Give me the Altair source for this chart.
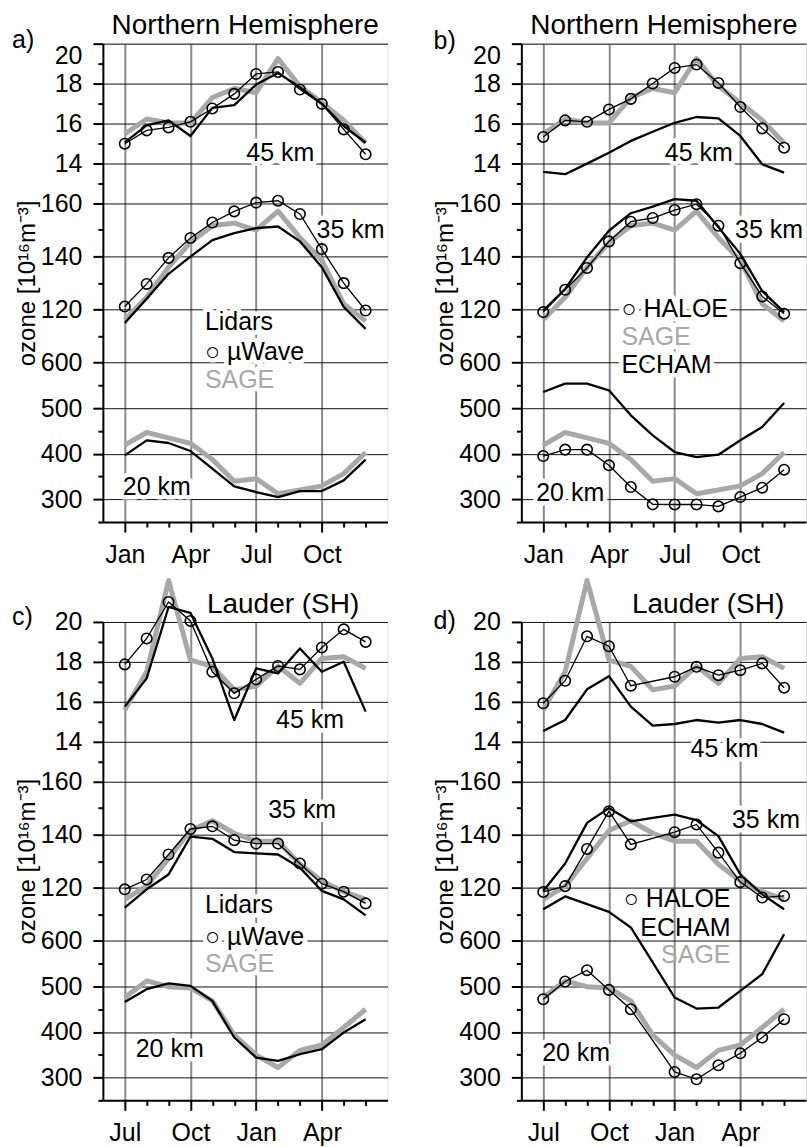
import altair as alt
import pandas as pd

FONT = "Liberation Sans"
GRAY = "#a8a8a8"

# ---------------- axis labels / ticks ----------------
x_tick_labels_nh = ["Jan", "", "", "Apr", "", "", "Jul", "", "", "Oct", "", ""]
x_tick_labels_sh = ["Jul", "", "", "Oct", "", "", "Jan", "", "", "Apr", "", ""]
ticks45 = [13, 14, 15, 16, 17, 18, 19, 20]
ticks35 = [110, 120, 130, 140, 150, 160]
ticks20 = [250, 300, 350, 400, 450, 500, 550, 600]
# each altitude band: (low, high, stacked offset)
BANDS = {45: (12, 20, 2), 35: (100, 160, 1), 20: (250, 600, 0)}

# ---------------- data (Northern Hemisphere, Jan..Dec) ----------------
a45_lidar = [15.05, 15.9, 16.15, 15.37, 16.78, 16.92, 17.95, 18.53, 17.82, 16.98, 15.87, 15.03]
a45_uwave = [14.98, 15.65, 15.8, 16.08, 16.75, 17.48, 18.48, 18.58, 17.7, 16.98, 15.7, 14.45]
a35_lidar = [114.9, 124.0, 133.4, 139.9, 146.1, 148.7, 150.6, 151.2, 145.6, 135.9, 120.9, 112.7]
a35_uwave = [121.1, 129.6, 139.4, 146.9, 152.7, 156.9, 160.2, 160.9, 155.9, 142.7, 129.9, 119.6]
a20_lidar = [396.4, 429.4, 423.5, 405.9, 367.2, 328.4, 315.9, 304.9, 318.0, 318.0, 341.5, 387.0]
nh45_sage = [15.47, 16.22, 16.02, 16.02, 17.29, 17.75, 17.54, 19.25, 17.86, 17.04, 16.16, 15.02]
nh35_sage = [116.1, 124.6, 135.9, 145.2, 151.5, 152.5, 149.8, 157.0, 147.0, 138.5, 122.1, 115.6]
nh20_sage = [419.0, 446.5, 434.7, 422.8, 387.4, 339.7, 345.3, 312.2, 320.4, 329.5, 356.3, 402.6]
b45_haloe = [15.32, 16.15, 16.08, 16.7, 17.23, 18.0, 18.78, 18.95, 18.03, 16.82, 15.75, 14.78]
b45_echam = [13.57, 13.45, 13.98, 14.53, 15.12, 15.58, 16.03, 16.32, 16.25, 15.37, 13.95, 13.53]
b35_haloe = [119.0, 127.4, 135.6, 145.6, 153.0, 154.4, 157.4, 159.6, 151.5, 137.4, 124.9, 118.4]
b35_echam = [119.6, 127.7, 139.6, 149.6, 156.2, 158.7, 161.5, 160.9, 150.9, 140.9, 126.9, 119.0]
b20_haloe = [394.9, 409.0, 409.0, 374.5, 326.9, 288.9, 288.6, 288.6, 284.4, 304.9, 325.5, 365.0]
b20_echam = [535.5, 553.9, 553.9, 539.2, 484.3, 440.4, 403.7, 392.7, 397.9, 429.4, 458.6, 511.3]

# ---------------- data (Lauder, Jul..Jun) ----------------
c45_lidar = [15.75, 17.17, 20.75, 20.45, 18.17, 15.08, 17.67, 17.42, 18.67, 17.5, 18.0, 15.5]
c45_uwave = [17.87, 19.17, 21.0, 20.05, 17.5, 16.42, 17.12, 17.79, 17.62, 18.72, 19.63, 19.0]
c35_lidar = [112.5, 119.4, 125.0, 139.2, 138.4, 133.4, 132.9, 132.5, 127.5, 118.8, 115.6, 109.6]
c35_uwave = [119.4, 123.1, 132.5, 142.1, 143.1, 137.9, 136.6, 136.6, 129.1, 121.5, 118.5, 114.1]
c20_lidar = [466.1, 493.9, 506.5, 501.2, 468.3, 387.9, 343.9, 336.5, 351.2, 362.2, 398.8, 428.1]
sh45_sage = [15.58, 17.5, 22.08, 18.08, 17.77, 16.6, 16.78, 17.78, 16.92, 18.17, 18.25, 17.67]
sh35_sage = [115.6, 120.6, 131.0, 141.5, 145.2, 140.5, 137.5, 137.5, 128.8, 122.5, 118.5, 115.6]
sh20_sage = [475.7, 512.1, 499.5, 496.8, 468.4, 393.4, 349.4, 322.0, 359.7, 371.4, 409.9, 450.0]
d45_haloe = [15.92, 17.05, 19.28, 18.78, 16.8, None, 17.25, 17.75, 17.33, 17.58, 17.92, 16.7]
d45_echam = [14.53, 15.08, 16.62, 17.28, 15.75, 14.8, 14.88, 15.08, 14.95, 15.08, 14.88, 14.45]
d35_haloe = [118.4, 120.6, 134.6, 148.8, 136.3, None, 140.9, 143.8, 133.2, 122.1, 116.3, 116.9]
d35_echam = [118.8, 129.1, 144.4, 150.0, 145.0, 146.3, 147.5, 145.4, 139.4, 125.0, 117.5, 111.9]
d20_haloe = [472.0, 510.8, 535.7, 492.4, 450.0, None, 312.3, 296.2, 326.9, 353.3, 387.9, 428.1]
d20_echam = [669.6, 697.5, 680.6, 663.7, 629.4, 552.6, 475.7, 451.5, 453.7, 490.2, 526.9, 614.7]

# ---------------- annotation texts: (text, month pos, band, value, align, size, color, halo) ----------------
FS = 25
TS = 28
texts_a = [
    ("a)", -5.15, 45, 19.77, "left", FS, "black", False),
    ("Northern Hemisphere", 5.5, 45, 20.47, "center", TS, "black", False),
    ("45 km", 5.55, 45, 14.12, "left", FS, "black", True),
    ("35 km", 8.76, 35, 147.0, "left", FS, "black", True),
    ("20 km", -0.09, 20, 308.6, "left", FS, "black", True),
    ("Lidars", 3.66, 35, 112.1, "left", FS, "black", True),
    ("\u25cb \u00b5Wave", 3.66, 35, 100.9, "left", FS, "black", True),
    ("SAGE", 3.66, 20, 543.6, "left", FS, GRAY, True),
]
texts_b = [
    ("b)", -5.01, 45, 19.72, "left", FS, "black", False),
    ("Northern Hemisphere", 5.51, 45, 20.47, "center", TS, "black", False),
    ("45 km", 5.55, 45, 14.12, "left", FS, "black", True),
    ("35 km", 8.76, 35, 147.0, "left", FS, "black", True),
    ("20 km", -0.32, 20, 296.1, "left", FS, "black", True),
    ("\u25cb HALOE", 3.57, 35, 117.0, "left", FS, "black", True),
    ("SAGE", 3.57, 35, 106.5, "left", FS, GRAY, True),
    ("ECHAM", 3.57, 20, 576.5, "left", FS, "black", True),
]
texts_c = [
    ("c)", -5.15, 45, 19.84, "left", FS, "black", False),
    ("Lauder (SH)", 7.23, 45, 20.43, "center", TS, "black", False),
    ("45 km", 6.91, 45, 14.69, "left", FS, "black", True),
    ("35 km", 6.55, 35, 146.4, "left", FS, "black", True),
    ("20 km", 0.5, 20, 344.6, "left", FS, "black", True),
    ("Lidars", 3.66, 35, 110.4, "left", FS, "black", True),
    ("\u25cb \u00b5Wave", 3.66, 20, 590.6, "left", FS, "black", True),
    ("SAGE", 3.66, 20, 531.3, "left", FS, GRAY, True),
]
texts_d = [
    ("d)", -5.01, 45, 19.67, "left", FS, "black", False),
    ("Lauder (SH)", 7.53, 45, 20.43, "center", TS, "black", False),
    ("45 km", 6.73, 45, 13.24, "left", FS, "black", True),
    ("35 km", 8.62, 35, 142.6, "left", FS, "black", True),
    ("20 km", -0.05, 20, 335.8, "left", FS, "black", True),
    ("\u25cb HALOE", 8.55, 35, 112.6, "right", FS, "black", False),
    ("ECHAM", 8.55, 35, 101.8, "right", FS, "black", False),
    ("SAGE", 8.55, 20, 551.0, "right", FS, GRAY, False),
]

W, H = 285, 479

U_EXPR = ("datum.band == 45 ? 2 + (datum.value - 12) / 8 : "
          "datum.band == 35 ? 1 + (datum.value - 100) / 60 : (datum.value - 250) / 350")
LBL = ("(datum.value > 2.001 ? 12 + (datum.value - 2) * 8 : datum.value > 1.001 ? "
       "100 + (datum.value - 1) * 60 : 250 + datum.value * 350)")
STEP = "(datum.value > 2.001 ? 2 : datum.value > 1.001 ? 20 : 100)"
Y_MINOR = f"round({LBL}) % {STEP} != 0"
X_MINOR = "datum.value % 3 != 0"


def to_u(band, v):
    lo, hi, off = BANDS[band]
    return round(off + (v - lo) / (hi - lo), 6)


yvals = sorted({to_u(45, v) for v in ticks45} | {to_u(35, v) for v in ticks35} | {to_u(20, v) for v in ticks20})


def long_df(d):
    rows = []
    for band, vals in d.items():
        for i, v in enumerate(vals):
            if v is not None:
                rows.append({"m": i, "band": band, "value": v})
    return pd.DataFrame(rows)


def make_panel(gray, plain, circ, xlabels, texts, flush):
    js_labels = "[" + ",".join("'" + s + "'" for s in xlabels) + "]"
    xaxis = alt.Axis(
        values=list(range(12)), labelExpr=f"{js_labels}[datum.value]", title=None,
        tickSize=10, tickWidth=2, tickColor="black",
        tickDash={"condition": {"test": X_MINOR, "value": [5, 30]}, "value": [12, 0]},
        grid=True, gridColor="#8a8a8a", gridWidth=2,
        gridOpacity={"condition": {"test": X_MINOR, "value": 0}, "value": 1},
        domainColor="black", domainWidth=2, labelFont=FONT, labelFontSize=FS,
        labelColor="black", labelPadding=30, labelBaseline="alphabetic",
        labelOverlap=False, labelFlush=False,
    )
    yaxis = alt.Axis(
        values=yvals, labelExpr=f"{Y_MINOR} ? '' : format(round({LBL}), 'd')",
        title="ozone [10\u00b9\u2076m\u207b\u00b3]", titleFont=FONT, titleFontSize=24,
        titleFontWeight="normal", titleColor="black", titlePadding=1,
        tickSize=10, tickWidth=2, tickColor="black",
        tickDash={"condition": {"test": Y_MINOR, "value": [5, 30]}, "value": [12, 0]},
        grid=True, gridColor="#111111", gridWidth=1,
        gridOpacity={"condition": {"test": Y_MINOR, "value": 0}, "value": 1},
        domainColor="black", domainWidth=2, labelFont=FONT, labelFontSize=FS,
        labelColor="black", labelPadding=11, labelOverlap=False, labelFlush=flush,
    )
    X = alt.X("m:Q", scale=alt.Scale(domain=[-1, 12], nice=False, zero=False), axis=xaxis)
    Y = alt.Y("u:Q", scale=alt.Scale(domain=[0, 3], nice=False, zero=False), axis=yaxis)

    tdf = pd.DataFrame(texts, columns=["text", "m", "band", "value", "align", "size", "color", "halo"])
    layers = []
    # white halos behind labels (interrupt the grid)
    for al in ["left", "center", "right"]:
        sub = tdf[(tdf["align"] == al) & (tdf["halo"])]
        if len(sub):
            layers.append(
                alt.Chart(sub).transform_calculate(u=U_EXPR)
                .mark_text(align=al, baseline="alphabetic", font=FONT, fill="white",
                           stroke="white", strokeWidth=9, strokeJoin="round")
                .encode(x=X, y=Y, text="text:N", size=alt.Size("size:Q", scale=None))
            )
    layers.append(
        alt.Chart(long_df(gray)).transform_calculate(u=U_EXPR)
        .mark_line(color=GRAY, strokeWidth=5, strokeJoin="round")
        .encode(x=X, y=Y, detail="band:N")
    )
    layers.append(
        alt.Chart(long_df(plain)).transform_calculate(u=U_EXPR)
        .mark_line(color="black", strokeWidth=2.3, strokeJoin="round")
        .encode(x=X, y=Y, detail="band:N")
    )
    cdf = long_df(circ)
    layers.append(
        alt.Chart(cdf).transform_calculate(u=U_EXPR)
        .mark_line(color="black", strokeWidth=1.3)
        .encode(x=X, y=Y, detail="band:N")
    )
    layers.append(
        alt.Chart(cdf).transform_calculate(u=U_EXPR)
        .mark_point(shape="circle", filled=False, color="black", size=110, strokeWidth=1.6, opacity=1)
        .encode(x=X, y=Y)
    )
    for al in ["left", "center", "right"]:
        sub = tdf[tdf["align"] == al]
        if len(sub):
            layers.append(
                alt.Chart(sub).transform_calculate(u=U_EXPR)
                .mark_text(align=al, baseline="alphabetic", font=FONT)
                .encode(x=X, y=Y, text="text:N",
                        size=alt.Size("size:Q", scale=None),
                        color=alt.Color("color:N", scale=None))
            )
    return alt.layer(*layers).properties(width=W, height=H)


pa = make_panel({45: nh45_sage, 35: nh35_sage, 20: nh20_sage},
                {45: a45_lidar, 35: a35_lidar, 20: a20_lidar},
                {45: a45_uwave, 35: a35_uwave}, x_tick_labels_nh, texts_a, True)
pb = make_panel({45: nh45_sage, 35: nh35_sage, 20: nh20_sage},
                {45: b45_echam, 35: b35_echam, 20: b20_echam},
                {45: b45_haloe, 35: b35_haloe, 20: b20_haloe}, x_tick_labels_nh, texts_b, True)
pc = make_panel({45: sh45_sage, 35: sh35_sage, 20: sh20_sage},
                {45: c45_lidar, 35: c35_lidar, 20: c20_lidar},
                {45: c45_uwave, 35: c35_uwave}, x_tick_labels_sh, texts_c, False)
pd_ = make_panel({45: sh45_sage, 35: sh35_sage, 20: sh20_sage},
                 {45: d45_echam, 35: d35_echam, 20: d20_echam},
                 {45: d45_haloe, 35: d35_haloe, 20: d20_haloe}, x_tick_labels_sh, texts_d, False)

chart = alt.concat(pa, pb, pc, pd_, columns=2, spacing={"row": 100, "column": 134}, bounds="flush").properties(
    padding={"left": 11, "top": 11, "right": 0, "bottom": 0}
).configure_view(stroke="black", strokeWidth=2).configure_axis(
    labelFontSize=FS, labelFont=FONT
).configure(background="white")

chart.save("out.html", embed_options={"renderer": "svg", "actions": False})
